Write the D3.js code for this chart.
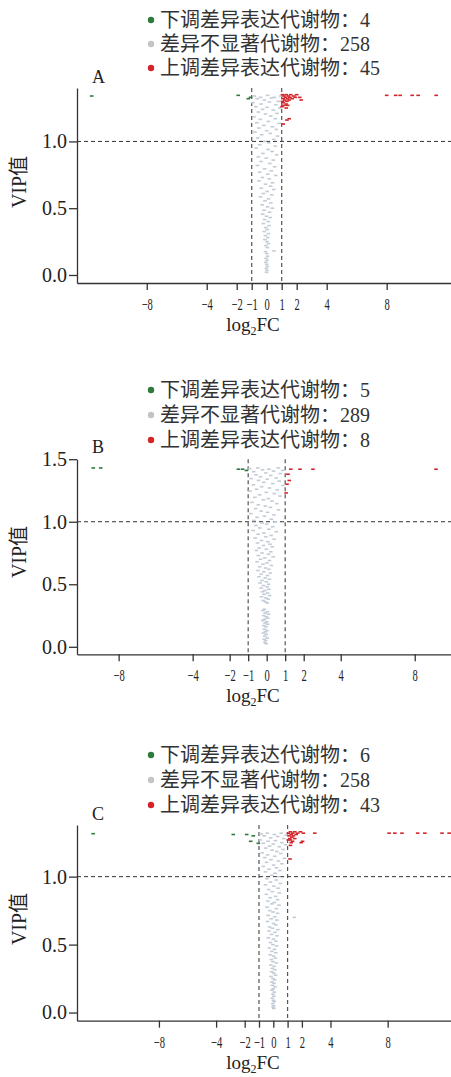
<!DOCTYPE html>
<html>
<head>
<meta charset="utf-8">
<script src="https://cdn.jsdelivr.net/npm/d3@7"></script>
<style>
  body { margin: 0; background: #fff; }
  svg { display: block; }
  text { font-family: "Liberation Serif", "Noto Sans CJK SC", serif; }
</style>
</head>
<body>
<div id="chart"></div>
<script>
// ---- data (log2FC, VIP) ----
const legendLabels = ["下调差异表达代谢物：", "差异不显著代谢物：", "上调差异表达代谢物："];
const xTicks = [-8, -4, -2, -1, 0, 1, 2, 4, 8];

const countsA = [4, 258, 45];
const greenA = [[-11.67,1.34],[-1.9,1.345],[-1.23,1.32],[-1.08,1.33]];
const redA = [[1.05,1.35],[1.15,1.34],[1.3,1.35],[1.45,1.34],[1.6,1.35],[1.8,1.34],[2.0,1.35],[2.2,1.33],
  [1.1,1.32],[1.25,1.33],[1.4,1.32],[1.55,1.33],[1.7,1.32],[1.9,1.33],[1.05,1.30],[1.2,1.31],[1.35,1.30],
  [1.5,1.31],[1.1,1.29],[1.3,1.28],[1.15,1.27],[2.3,1.31],[1.4,1.27],[1.02,1.26],[1.3,1.25],
  [1.35,1.16],[1.5,1.17],[1.1,1.13],
  [8.0,1.345],[8.6,1.345],[8.9,1.345],[9.7,1.345],[10.1,1.345],[11.3,1.345]];
const greyA = [[-0.82,1.34],[-0.41,1.33],[0.06,1.345],[0.52,1.33],[0.93,1.34],[-0.64,1.32],[0.31,1.325],
  [-0.15,1.31],[0.77,1.30],[-0.93,1.29],[0.18,1.295],[-0.37,1.28],[0.61,1.275],[-0.72,1.26],[0.02,1.255],
  [0.88,1.25],[-0.28,1.24],[0.44,1.235],[-0.55,1.22],[0.69,1.21],[-0.08,1.205],[0.27,1.19],[-0.85,1.185],
  [0.57,1.17],[-0.43,1.165],[0.11,1.15],[-0.66,1.14],[0.83,1.135],[-0.19,1.12],[0.38,1.11],[-0.52,1.10],
  [0.64,1.09],[0.0,1.08],[-0.78,1.07],[0.24,1.06],[-0.33,1.05],[0.72,1.04],[-0.6,1.025],[0.47,1.015],
  [-0.12,1.0],[0.14,0.99],
  [-0.46,0.975],[0.58,0.965],[-0.7,0.95],[0.09,0.94],[0.36,0.925],[-0.25,0.91],[0.66,0.90],[-0.56,0.885],
  [-0.03,0.875],[0.44,0.86],[-0.38,0.85],[0.21,0.835],[-0.62,0.82],[0.53,0.81],[-0.14,0.795],[0.31,0.78],
  [-0.47,0.77],[0.07,0.755],[0.6,0.745],[-0.29,0.73],[0.17,0.72],[-0.52,0.705],[0.39,0.69],[-0.08,0.68],
  [0.26,0.665],[-0.36,0.65],[0.47,0.64],[0.03,0.625],[-0.22,0.61],
  [0.34,0.60],[-0.41,0.585],[0.12,0.57],[-0.11,0.555],[0.28,0.54],[-0.3,0.525],[0.06,0.51],[0.38,0.50],
  [-0.18,0.485],[0.19,0.47],[-0.27,0.455],[-0.02,0.44],[0.24,0.43],[-0.14,0.415],[0.1,0.40],[-0.22,0.385],
  [0.16,0.37],[-0.06,0.355],[0.03,0.34],[-0.16,0.325],[0.12,0.31],
  [-0.09,0.295],[0.07,0.28],[-0.12,0.265],[0.02,0.25],[0.11,0.235],[-0.06,0.22],[0.04,0.205],[0.48,0.18],
  [-0.08,0.175],[0.01,0.16],[0.06,0.14],[-0.04,0.125],[0.03,0.11],[-0.07,0.095],[0.0,0.08],[0.05,0.065],
  [-0.03,0.05],[0.01,0.035],[-0.01,0.02]];

const countsB = [5, 289, 8];
const greenB = [[-9.37,1.43],[-8.97,1.43],[-1.53,1.42],[-1.3,1.42],[-1.1,1.41]];
const redB = [[1.3,1.42],[1.8,1.42],[2.5,1.42],[9.15,1.42],[1.15,1.38],[1.22,1.33],[1.05,1.23],[1.1,1.30]];
const greyB = [[-0.91,1.425],[-0.48,1.43],[0.12,1.42],[0.63,1.43],[-0.22,1.415],[0.86,1.41],[-0.7,1.40],
  [0.37,1.405],[-0.05,1.39],[0.74,1.385],[-0.58,1.375],[0.22,1.37],[-0.33,1.36],[0.51,1.35],[-0.84,1.345],
  [0.03,1.34],[-0.44,1.33],[0.68,1.325],[-0.16,1.315],[0.33,1.305],[-0.72,1.295],[0.88,1.29],[-0.27,1.28],
  [0.15,1.27],[-0.55,1.26],[0.57,1.255],[-0.9,1.245],[-0.02,1.235],[0.41,1.225],[-0.38,1.215],[0.72,1.205],
  [-0.64,1.195],[0.09,1.185],[-0.18,1.175],[0.29,1.165],[-0.79,1.155],[0.55,1.145],[-0.45,1.135],
  [-0.07,1.125],[0.2,1.115],[-0.6,1.105],[0.64,1.095],[-0.3,1.085],[0.05,1.075],[-0.86,1.065],[0.39,1.055],
  [-0.12,1.045],[-0.52,1.035],[0.25,1.02],[-0.69,1.01],[0.47,1.0],[-0.24,0.99],
  [0.0,0.98],[-0.58,0.97],[0.33,0.96],[-0.37,0.95],[0.12,0.94],[-0.73,0.93],[0.52,0.92],[-0.15,0.91],
  [-0.46,0.90],[0.24,0.89],[-0.05,0.88],[-0.62,0.87],[0.4,0.86],[-0.28,0.85],[0.07,0.84],[-0.5,0.83],
  [0.18,0.82],[-0.17,0.81],[0.3,0.80],[-0.4,0.79],[-0.02,0.78],[-0.56,0.77],[0.22,0.76],[-0.25,0.75],
  [0.1,0.74],[-0.45,0.73],[0.35,0.72],[-0.1,0.71],[-0.33,0.70],[0.15,0.69],[-0.52,0.68],[0.02,0.67],
  [-0.2,0.66],[0.25,0.65],[-0.38,0.64],[-0.06,0.63],[0.12,0.62],[-0.47,0.61],
  [-0.15,0.60],[0.2,0.59],[-0.3,0.58],[0.04,0.57],[-0.42,0.56],[-0.08,0.55],[0.15,0.54],[-0.26,0.53],
  [-0.02,0.52],[-0.36,0.51],[0.1,0.50],[-0.18,0.49],[0.02,0.48],[-0.3,0.47],[0.12,0.46],[-0.1,0.45],
  [-0.22,0.44],[0.05,0.43],[-0.14,0.42],[0.16,0.41],[-0.28,0.40],[-0.04,0.39],[0.08,0.38],[-0.19,0.37],
  [-0.07,0.36],[0.03,0.35],
  [-0.12,0.30],[-0.2,0.29],[0.04,0.28],[-0.08,0.27],[0.1,0.26],[-0.16,0.25],[-0.03,0.24],[0.06,0.23],
  [-0.11,0.22],[-0.21,0.21],[0.0,0.20],[-0.09,0.19],[0.05,0.18],[-0.15,0.17],[-0.04,0.16],[-0.12,0.14],
  [0.02,0.13],[-0.07,0.12],[-0.17,0.11],[-0.02,0.10],[-0.1,0.085],[0.03,0.07],[-0.13,0.06],[-0.06,0.05],
  [-0.09,0.035],[-0.03,0.025]];

const countsC = [6, 258, 43];
const greenC = [[-12.6,1.316],[-2.8,1.31],[-1.86,1.31],[-1.4,1.30],[-1.58,1.26],[-1.05,1.245]];
const redC = [[1.05,1.32],[1.2,1.33],[1.35,1.32],[1.5,1.33],[1.7,1.32],[1.9,1.33],[2.1,1.32],[2.9,1.32],
  [1.1,1.30],[1.25,1.31],[1.4,1.30],[1.6,1.31],[1.15,1.28],[1.3,1.29],[1.5,1.28],[1.2,1.27],[1.35,1.26],
  [1.05,1.27],[1.25,1.25],[1.95,1.25],[2.05,1.26],[1.2,1.23],[1.17,1.13],
  [8.1,1.32],[8.5,1.32],[9.0,1.32],[10.1,1.32],[10.6,1.32],[11.8,1.32],[12.3,1.32]];
const greyC = [[-0.86,1.315],[-0.42,1.32],[0.08,1.31],[0.55,1.32],[0.9,1.305],[-0.63,1.30],[0.31,1.295],
  [-0.18,1.285],[0.74,1.28],[-0.9,1.27],[0.15,1.265],[-0.37,1.26],[0.6,1.25],[-0.7,1.245],[0.0,1.24],
  [0.86,1.235],[-0.26,1.225],[0.42,1.22],[-0.53,1.21],[0.68,1.20],[-0.08,1.195],[0.25,1.185],[-0.78,1.175],
  [0.52,1.17],[-0.4,1.16],[0.1,1.15],[-0.6,1.14],[0.78,1.135],[-0.16,1.125],[0.36,1.115],[-0.48,1.105],
  [0.6,1.095],[0.02,1.085],[-0.7,1.075],[0.22,1.065],[-0.3,1.055],[0.47,1.045],[-0.55,1.035],[0.12,1.025],
  [-0.1,1.01],[0.38,1.0],
  [-0.45,0.985],[0.2,0.975],[-0.2,0.96],[0.5,0.95],[-0.55,0.94],[0.04,0.93],[0.33,0.915],[-0.32,0.905],
  [-0.07,0.89],[0.42,0.88],[-0.48,0.87],[0.16,0.855],[-0.22,0.845],[0.3,0.83],[-0.38,0.82],[0.07,0.81],
  [-0.1,0.80],[0.4,0.79],[-0.44,0.775],[0.22,0.765],[-0.25,0.75],[-0.02,0.74],[0.3,0.73],[-0.36,0.715],
  [0.1,0.705],[1.47,0.70],[-0.15,0.69],[0.25,0.68],[-0.4,0.67],[0.02,0.655],[0.18,0.645],[-0.26,0.63],
  [-0.05,0.62],[0.32,0.61],
  [-0.3,0.60],[0.12,0.59],[-0.12,0.575],[0.26,0.565],[-0.35,0.55],[0.0,0.54],[0.18,0.525],[-0.2,0.515],
  [-0.02,0.50],[0.24,0.49],[-0.28,0.475],[0.08,0.465],[-0.1,0.45],[0.18,0.44],[-0.22,0.425],[0.02,0.415],
  [0.14,0.40],[-0.14,0.39],[-0.03,0.375],[0.2,0.365],[-0.18,0.35],[0.06,0.34],[-0.07,0.325],[0.12,0.315],
  [-0.12,0.30],[0.03,0.29],[0.16,0.275],[-0.16,0.265],[-0.02,0.25],[0.1,0.24],[-0.1,0.225],[0.05,0.215],
  [-0.06,0.20],[0.12,0.19],[0.0,0.175],[-0.09,0.165],[0.07,0.15],[-0.03,0.135],[0.04,0.12],[-0.07,0.105],
  [0.01,0.09],[0.06,0.08],[-0.04,0.065],[0.02,0.05],[-0.01,0.04],[0.03,0.03]];

// ---- colours ----
const colGreen = "#2e7a3c", colGrey = "#c3ccd6", colRed = "#d4242a";
const legendCols = [colGreen, "#c4c4c4", colRed];

// ---- panel layout ----
const panels = [
  { letter: "A", counts: countsA, grey: greyA, green: greenA, red: redA,
    legendY: [20, 44, 68], letterY: 83,
    xDomain: [-12.65, 12.29], yDomain: [-0.06, 1.4], yRange: [283, 88],
    yTicks: [0, 0.5, 1.0], titleY: 182 },
  { letter: "B", counts: countsB, grey: greyB, green: greenB, red: redB,
    legendY: [390, 415, 440], letterY: 453,
    xDomain: [-10.25, 9.96], yDomain: [-0.06, 1.5], yRange: [654.3, 459.2],
    yTicks: [0, 0.5, 1.0, 1.5], titleY: 552 },
  { letter: "C", counts: countsC, grey: greyC, green: greenC, red: redC,
    legendY: [755, 780, 805], letterY: 820,
    xDomain: [-13.73, 12.43], yDomain: [-0.06, 1.38], yRange: [1020.7, 825],
    yTicks: [0, 0.5, 1.0], titleY: 919 }
];

const W = 451, H = 1077;
const left = 77, right = 451;

const svg = d3.select("#chart").append("svg")
  .attr("width", W).attr("height", H);

panels.forEach(p => {
  const g = svg.append("g");
  const x = d3.scaleLinear().domain(p.xDomain).range([left, right]);
  const y = d3.scaleLinear().domain(p.yDomain).range(p.yRange);
  const bottom = p.yRange[0], top = p.yRange[1];

  // legend
  legendLabels.forEach((lab, i) => {
    g.append("circle")
      .attr("cx", 151).attr("cy", p.legendY[i]).attr("r", 3.2)
      .attr("fill", legendCols[i]);
    g.append("text")
      .attr("x", 160).attr("y", p.legendY[i]).attr("dy", "0.36em")
      .attr("font-size", 20).attr("fill", "#333")
      .text(lab + p.counts[i]);
  });

  // panel letter
  g.append("text")
    .attr("x", 92).attr("y", p.letterY)
    .attr("font-size", 18).attr("fill", "#222")
    .text(p.letter);

  // threshold lines
  g.append("line")
    .attr("x1", left).attr("x2", right)
    .attr("y1", y(1)).attr("y2", y(1))
    .attr("stroke", "#333").attr("stroke-width", 1)
    .attr("stroke-dasharray", "4,3");
  [-1, 1].forEach(v => {
    g.append("line")
      .attr("x1", x(v)).attr("x2", x(v))
      .attr("y1", top).attr("y2", bottom)
      .attr("stroke", "#555").attr("stroke-width", 1.2)
      .attr("stroke-dasharray", "4,3");
  });

  // points as small dashes
  const drawPts = (data, col) => {
    g.append("g").selectAll("rect")
      .data(data).join("rect")
      .attr("x", d => x(d[0]) - 1.8)
      .attr("y", d => y(d[1]) - 0.8)
      .attr("width", 3.6).attr("height", 1.6)
      .attr("fill", col);
  };
  drawPts(p.grey, colGrey);
  drawPts(p.green, colGreen);
  drawPts(p.red, colRed);

  // axes
  const xAxis = g.append("g")
    .attr("transform", `translate(0,${bottom})`)
    .call(d3.axisBottom(x).tickValues(xTicks).tickSize(7).tickSizeOuter(0).tickPadding(8));
  xAxis.selectAll("text")
    .attr("font-size", 17).attr("fill", "#222")
    .attr("font-family", "Liberation Serif, serif")
    .each(function() {
      // condensed look of the original tick labels
      const len = this.getComputedTextLength();
      d3.select(this).attr("textLength", len * 0.62).attr("lengthAdjust", "spacingAndGlyphs");
    });

  const yAxis = g.append("g")
    .attr("transform", `translate(${left},0)`)
    .call(d3.axisLeft(y).tickValues(p.yTicks).tickFormat(d3.format(".1f"))
      .tickSize(8).tickSizeOuter(0).tickPadding(2));
  yAxis.selectAll("text")
    .attr("font-size", 20).attr("fill", "#222")
    .attr("font-family", "Liberation Serif, serif");

  [xAxis, yAxis].forEach(a => {
    a.selectAll("path, line").attr("stroke", "#333").attr("stroke-width", 1.3);
  });

  // axis titles
  const xt = g.append("text")
    .attr("x", 253).attr("y", bottom + 48)
    .attr("text-anchor", "middle")
    .attr("font-size", 19).attr("fill", "#222");
  xt.append("tspan").text("log");
  xt.append("tspan").attr("font-size", 12).attr("dy", 4).text("2");
  xt.append("tspan").attr("dy", -4).text("FC");

  g.append("text")
    .attr("transform", `translate(26,${p.titleY}) rotate(-90)`)
    .attr("text-anchor", "middle")
    .attr("font-size", 20).attr("fill", "#222")
    .text("VIP值");
});
</script>
</body>
</html>
